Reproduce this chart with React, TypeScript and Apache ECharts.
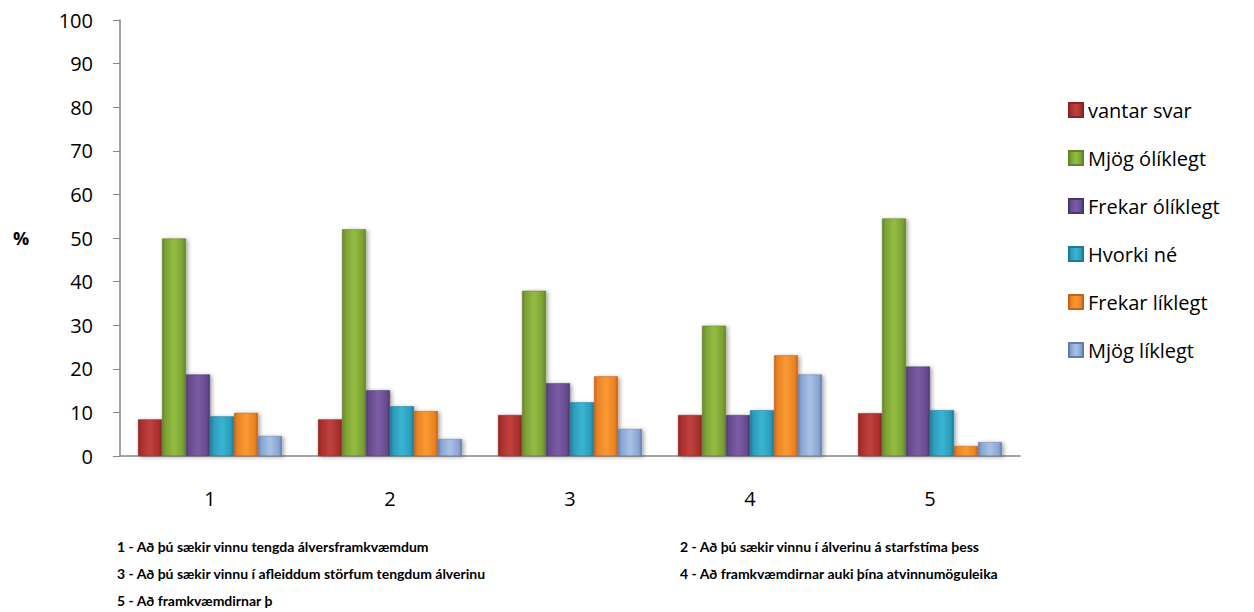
import React, { useEffect, useRef } from "react";
import * as echarts from "echarts";

const categories = ["1", "2", "3", "4", "5"];
const seriesNames = [
  "vantar svar",
  "Mjög ólíklegt",
  "Frekar ólíklegt",
  "Hvorki né",
  "Frekar líklegt",
  "Mjög líklegt",
];
const vantarSvar = [8.4, 8.4, 9.4, 9.4, 9.8];
const mjogOliklegt = [49.9, 52.0, 37.9, 29.9, 54.5];
const frekarOliklegt = [18.7, 15.1, 16.7, 9.4, 20.5];
const hvorkiNe = [9.1, 11.4, 12.3, 10.5, 10.5];
const frekarLiklegt = [9.9, 10.3, 18.3, 23.1, 2.3];
const mjogLiklegt = [4.6, 3.9, 6.2, 18.7, 3.2];
const seriesValues = [vantarSvar, mjogOliklegt, frekarOliklegt, hvorkiNe, frekarLiklegt, mjogLiklegt];

const yTicks = [0, 10, 20, 30, 40, 50, 60, 70, 80, 90, 100];

const footnotes = [
  "1 - Að þú sækir vinnu tengda álversframkvæmdum",
  "2 - Að þú sækir vinnu í álverinu á starfstíma þess",
  "3 - Að þú sækir vinnu í afleiddum störfum tengdum álverinu",
  "4 - Að framkvæmdirnar auki þína atvinnumöguleika",
  "5 - Að framkvæmdirnar þ",
];

const palettes: [string, string, string][] = [
  ["#8a2422", "#c0413e", "#a82f2d"],
  ["#62832a", "#94bd42", "#7b9f33"],
  ["#4d366d", "#7c5ca8", "#654a8b"],
  ["#1c7a93", "#3ab5d3", "#2a9bb8"],
  ["#c2631a", "#f99a33", "#e98123"],
  ["#627cab", "#a9c2e6", "#88a3d0"],
];

const FONT = "'Open Sans', Lato, sans-serif";
const FN_FONT = "Lato, 'Open Sans', sans-serif";

export default function App() {
  const ref = useRef<HTMLDivElement>(null);
  useEffect(() => {
    if (!ref.current) return;
    const chart = echarts.init(ref.current, undefined, { renderer: "svg" });
    const series = seriesNames.map((name, i) => {
      const [dark, light, mid] = palettes[i];
      return {
        name,
        type: "bar",
        data: seriesValues[i],
        barGap: "0%",
        barCategoryGap: "20%",
        itemStyle: {
          color: new echarts.graphic.LinearGradient(0, 0, 1, 0, [
            { offset: 0, color: dark },
            { offset: 0.12, color: mid },
            { offset: 0.5, color: light },
            { offset: 0.88, color: mid },
            { offset: 1, color: dark },
          ]),
          borderColor: dark,
          borderWidth: 0.5,
          shadowColor: "rgba(0,0,0,0.35)",
          shadowBlur: 4,
          shadowOffsetX: 2,
          shadowOffsetY: 1,
        },
      };
    });
    const graphics: any[] = [
      {
        type: "text",
        left: 13,
        top: 229,
        style: { text: "%", font: `bold 18px ${FONT}`, fill: "#000" },
      },
    ];
    const fnPos = [
      [117, 539],
      [680, 539],
      [117, 566],
      [680, 566],
      [117, 593],
    ];
    footnotes.forEach((t, i) => {
      graphics.push({
        type: "text",
        left: fnPos[i][0],
        top: fnPos[i][1],
        style: { text: t, font: `bold 14px ${FN_FONT}`, fill: "#000" },
      });
    });
    chart.setOption({
      animation: false,
      backgroundColor: "#fff",
      grid: { left: 120, right: 234, top: 20, bottom: 156 },
      legend: {
        orient: "vertical",
        left: 1063,
        top: 93,
        itemWidth: 14,
        itemHeight: 14,
        itemGap: 24,
        icon: "rect",
        textStyle: { fontSize: 20, fontFamily: FONT, color: "#000", lineHeight: 24 },
        data: seriesNames,
      },
      xAxis: {
        type: "category",
        data: categories,
        axisLine: { lineStyle: { color: "#868686", width: 1.5 } },
        axisTick: { show: false },
        axisLabel: { fontSize: 20, fontFamily: FONT, color: "#000", margin: 32 },
      },
      yAxis: {
        type: "value",
        min: 0,
        max: 100,
        interval: 10,
        axisLine: { show: true, lineStyle: { color: "#868686", width: 1.5 } },
        axisTick: { show: true, length: 7, lineStyle: { color: "#868686" } },
        splitLine: { show: false },
        axisLabel: {
          fontSize: 20,
          fontFamily: FONT,
          color: "#000",
          margin: 27,
          formatter: (v: number) => (yTicks.includes(v) ? String(v) : ""),
        },
      },
      graphic: graphics,
      series,
    });
    return () => chart.dispose();
  }, []);
  return <div ref={ref} style={{ width: 1254, height: 612, position: "absolute", left: 0, top: 0 }} />;
}
